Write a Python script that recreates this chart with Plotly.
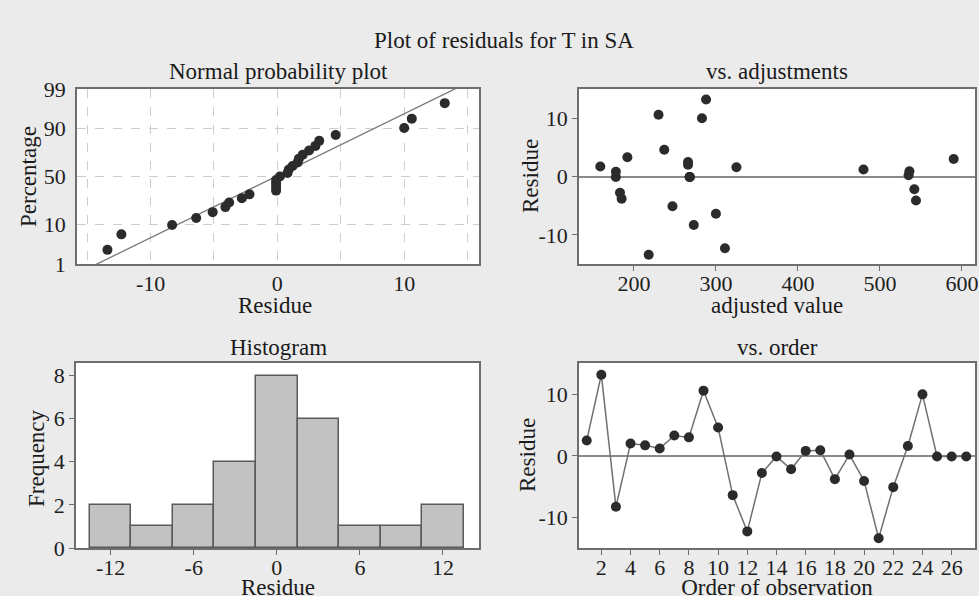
import plotly.graph_objects as go
from statistics import NormalDist, mean, stdev

W, H = 979, 596
FONT = "Liberation Serif"

# ---------------- data ----------------
observation_order = list(range(1, 28))
residuals = [2.5, 13.2, -8.3, 2.0, 1.7, 1.2, 3.3, 3.0, 10.6, 4.6, -6.4, -12.3, -2.8,
             -0.1, -2.2, 0.8, 0.9, -3.8, 0.2, -4.1, -13.4, -5.1, 1.6, 10.0, -0.1, -0.1, -0.1]
fitted_values = [266, 288, 273, 266, 159, 480, 192, 590, 230, 237, 300, 311, 183,
                 178, 542, 178, 536, 185, 535, 544, 218, 247, 325, 283, 268, 268, 268]

prob_tick_percent = [1, 10, 50, 90, 99]
prob_tick_labels = ["1", "10", "50", "90", "99"]
residue_ticks = [-10, 0, 10]
residue_labels = ["-10", "0", "10"]
hist_ticks = [-12, -6, 0, 6, 12]
hist_labels = ["-12", "-6", "0", "6", "12"]
freq_ticks = [0, 2, 4, 6, 8]
fitted_ticks = [200, 300, 400, 500, 600]
order_ticks = list(range(2, 27, 2))

# ---------------- derived (normal probability plot) ----------------
nd = NormalDist()
n = len(residuals)
sorted_res = sorted(residuals)
median_ranks = [(i - 0.3) / (n + 0.4) for i in range(1, n + 1)]
prob_z = [nd.inv_cdf(p) for p in median_ranks]
prob_tick_z = [nd.inv_cdf(p / 100) for p in prob_tick_percent]
mu, sd = mean(residuals), stdev(residuals)
line_x = [-20, 20]
line_z = [(v - mu) / sd for v in line_x]

# ---------------- styling helpers ----------------
def dx(a, b):
    return [a / W, b / W]

def dy(top, bottom):
    return [1 - bottom / H, 1 - top / H]

def px(x):
    return x / W

def py(y):
    return 1 - y / H

FRAME = "#6e6e6e"
DOT = "#2b2b2b"
TXT = "#1a1a1a"
base_axis = dict(showline=True, mirror=True, linecolor=FRAME, linewidth=1.5,
                 ticks="outside", ticklen=5, tickcolor=FRAME, tickwidth=1,
                 tickfont=dict(family=FONT, size=22, color="#1e1e1e"),
                 showgrid=False, zeroline=False, fixedrange=True, automargin=False)
x_axis = dict(base_axis, ticklabelstandoff=-6)
grid_style = dict(showgrid=True, gridcolor="#cdcdcd", gridwidth=1.3, griddash="dash")

fig = go.Figure()

# Normal probability plot
fig.add_trace(go.Scatter(x=line_x, y=line_z, mode="lines", xaxis="x", yaxis="y",
                         line=dict(color="#7a7a7a", width=1.3), showlegend=False))
fig.add_trace(go.Scatter(x=sorted_res, y=prob_z, mode="markers", xaxis="x", yaxis="y",
                         marker=dict(color=DOT, size=10), showlegend=False))

# vs. adjustments
fig.add_trace(go.Scatter(x=fitted_values, y=residuals, mode="markers", xaxis="x2", yaxis="y2",
                         marker=dict(color=DOT, size=10), showlegend=False))

# Histogram
fig.add_trace(go.Histogram(x=residuals, xaxis="x3", yaxis="y3",
                           xbins=dict(start=-13.5, end=13.5, size=3),
                           marker=dict(color="#c2c2c2", line=dict(color="#5a5a5a", width=1.5)),
                           showlegend=False))

# vs. order
fig.add_trace(go.Scatter(x=observation_order, y=residuals, mode="lines+markers", xaxis="x4", yaxis="y4",
                         line=dict(color="#707070", width=1.5),
                         marker=dict(color=DOT, size=10), showlegend=False))

fig.update_layout(
    width=W, height=H, autosize=False,
    margin=dict(l=0, r=0, t=0, b=0, pad=0, autoexpand=False),
    paper_bgcolor="#ebebeb", plot_bgcolor="#ffffff",
    showlegend=False,
    bargap=0,
    xaxis=dict(x_axis, domain=dx(77, 479), range=[-15.8, 15.9], tickvals=residue_ticks,
               ticktext=residue_labels, tickcolor="rgba(0,0,0,0)",
               anchor="y", **grid_style,
               minor=dict(tick0=0, dtick=5, showgrid=True, gridcolor="#cdcdcd",
                          gridwidth=1.3, griddash="dash", ticks="")),
    yaxis=dict(base_axis, domain=dy(89, 264), range=[prob_tick_z[0], prob_tick_z[-1]],
               tickvals=prob_tick_z, ticktext=prob_tick_labels, tickcolor="rgba(0,0,0,0)",
               anchor="x", **grid_style),
    xaxis2=dict(x_axis, domain=dx(579, 975), range=[133, 616], tickvals=fitted_ticks, anchor="y2"),
    yaxis2=dict(base_axis, domain=dy(89, 264), range=[-15, 15], tickvals=residue_ticks,
                ticktext=residue_labels, anchor="x2",
                zeroline=True, zerolinecolor="#8a8a8a", zerolinewidth=2),
    xaxis3=dict(x_axis, domain=dx(76, 479), range=[-14.5, 14.6], tickvals=hist_ticks,
                ticktext=hist_labels, anchor="y3"),
    yaxis3=dict(base_axis, domain=dy(363, 548), range=[0, 8.58], tickvals=freq_ticks, anchor="x3"),
    xaxis4=dict(x_axis, domain=dx(579, 975), range=[0.47, 27.6], tickvals=order_ticks, anchor="y4"),
    yaxis4=dict(base_axis, domain=dy(363, 548), range=[-15, 15.1], tickvals=residue_ticks,
                ticktext=residue_labels, anchor="x4",
                zeroline=True, zerolinecolor="#8a8a8a", zerolinewidth=2),
)

def label(text, x, y, size=23, angle=0):
    fig.add_annotation(text=text, x=px(x), y=py(y), xref="paper", yref="paper",
                       showarrow=False, textangle=angle, xanchor="center", yanchor="middle",
                       font=dict(family=FONT, size=size, color=TXT))

def edge_label(text, x, y, size=23):
    # text placed with a shape label so that it may run off the bottom edge, as in the reference
    fig.add_shape(type="line", xref="paper", yref="paper",
                  x0=px(x - 5), x1=px(x + 5), y0=py(y), y1=py(y),
                  line=dict(color="rgba(0,0,0,0)", width=0),
                  label=dict(text=text, textposition="middle", xanchor="center", yanchor="middle",
                             font=dict(family=FONT, size=size, color=TXT)))

label("Plot of residuals for T in SA", 504, 40)
label("Normal probability plot", 278, 71)
label("vs. adjustments", 777, 71)
label("Histogram", 278, 347)
label("vs. order", 777, 347)

label("Residue", 275, 305)
label("adjusted value", 777, 305)
edge_label("Residue", 278, 584)
edge_label("Order of observation", 777, 584)

label("Percentage", 28, 177, angle=-90)
label("Residue", 530, 176, angle=-90)
label("Frequency", 37, 458, angle=-90)
label("Residue", 527, 455, angle=-90)

fig.write_html("out.html", config={"displayModeBar": False},
               post_script="document.body.style.margin='0';")
